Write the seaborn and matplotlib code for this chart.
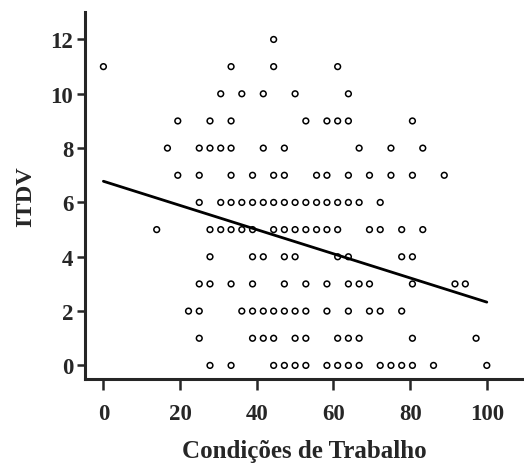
#!/usr/bin/env python3

import matplotlib
matplotlib.use("Agg")
import matplotlib.pyplot as plt
import pandas as pd
import seaborn as sns

# values, one list of x values per ITDV level
ROW_12 = [44.4]
ROW_11 = [0.0, 33.3, 44.4, 61.1]
ROW_10 = [30.6, 36.1, 41.7, 50.0, 63.9]
ROW_9 = [19.4, 27.8, 33.3, 52.8, 58.3, 61.1, 63.9, 80.6]
ROW_8 = [16.7, 25.0, 27.8, 30.6, 33.3, 41.7, 47.2, 66.7, 75.0, 83.3]
ROW_7 = [19.4, 25.0, 33.3, 38.9, 44.4, 47.2, 55.6, 58.3, 63.9, 69.4, 75.0, 80.6, 88.9]
ROW_6 = [25.0, 30.6, 33.3, 36.1, 38.9, 41.7, 44.4, 47.2, 50.0, 52.8, 55.6, 58.3,
         61.1, 63.9, 66.7, 72.2]
ROW_5 = [13.9, 27.8, 30.6, 33.3, 36.1, 38.9, 44.4, 47.2, 50.0, 52.8, 55.6, 58.3,
         61.1, 69.4, 72.2, 77.8, 83.3]
ROW_4 = [27.8, 38.9, 41.7, 47.2, 50.0, 61.1, 63.9, 77.8, 80.6]
ROW_3 = [25.0, 27.8, 33.3, 38.9, 47.2, 52.8, 58.3, 63.9, 66.7, 69.4, 80.6, 91.7, 94.4]
ROW_2 = [22.2, 25.0, 36.1, 38.9, 41.7, 44.4, 47.2, 50.0, 52.8, 58.3, 63.9, 69.4,
         72.2, 77.8]
ROW_1 = [25.0, 38.9, 41.7, 44.4, 50.0, 52.8, 61.1, 63.9, 66.7, 80.6, 97.2]
ROW_0 = [27.8, 33.3, 44.4, 47.2, 50.0, 52.8, 58.3, 61.1, 63.9, 66.7, 72.2, 75.0,
         77.8, 80.6, 86.1, 100.0]

rows = {12: ROW_12, 11: ROW_11, 10: ROW_10, 9: ROW_9, 8: ROW_8, 7: ROW_7, 6: ROW_6,
        5: ROW_5, 4: ROW_4, 3: ROW_3, 2: ROW_2, 1: ROW_1, 0: ROW_0}

# fitted line as drawn in the figure (many points overlap, so it is read, not refit)
FIT_X = [0, 100]
FIT_Y = [6.78, 2.33]

X_TICKS = [0, 20, 40, 60, 80, 100]
Y_TICKS = [0, 2, 4, 6, 8, 10, 12]

df = pd.DataFrame([(x, y) for y, xs in rows.items() for x in xs],
                  columns=["cond", "itdv"])
fit = pd.DataFrame({"cond": FIT_X, "itdv": FIT_Y})

sns.set_style("ticks")
plt.rcParams["font.family"] = ["Liberation Serif", "DejaVu Serif"]
plt.rcParams["font.weight"] = "bold"

fig = plt.figure(figsize=(5.24, 4.64), dpi=100)
ax = fig.add_axes([85 / 524, 84 / 464, 439 / 524, 366.7 / 464])

sns.scatterplot(data=df, x="cond", y="itdv", ax=ax, marker="o", s=17,
                facecolor="none", edgecolor="black", linewidth=1.1, zorder=2)
sns.lineplot(data=fit, x="cond", y="itdv", ax=ax, color="black", linewidth=2.0,
             zorder=3)

ax.set_xlim(-4.8, 109.7)
ax.set_ylim(-0.5, 13)
ax.set_xticks(X_TICKS)
ax.set_yticks(Y_TICKS)

for side in ["top", "right"]:
    ax.spines[side].set_visible(False)
for side in ["left", "bottom"]:
    ax.spines[side].set_linewidth(2.2)

ax.tick_params(axis="x", length=8, width=1.8, pad=9, labelsize=16.5)
ax.tick_params(axis="y", length=5.5, width=1.8, pad=3, labelsize=16.5)
for lab in ax.get_xticklabels() + ax.get_yticklabels():
    lab.set_fontweight("bold")

ax.set_xlabel("Condições de Trabalho", fontsize=18, fontweight="bold", labelpad=11)
ax.set_ylabel("ITDV", fontsize=17.5, fontweight="bold", labelpad=10)

fig.savefig("out.png", dpi=100)
